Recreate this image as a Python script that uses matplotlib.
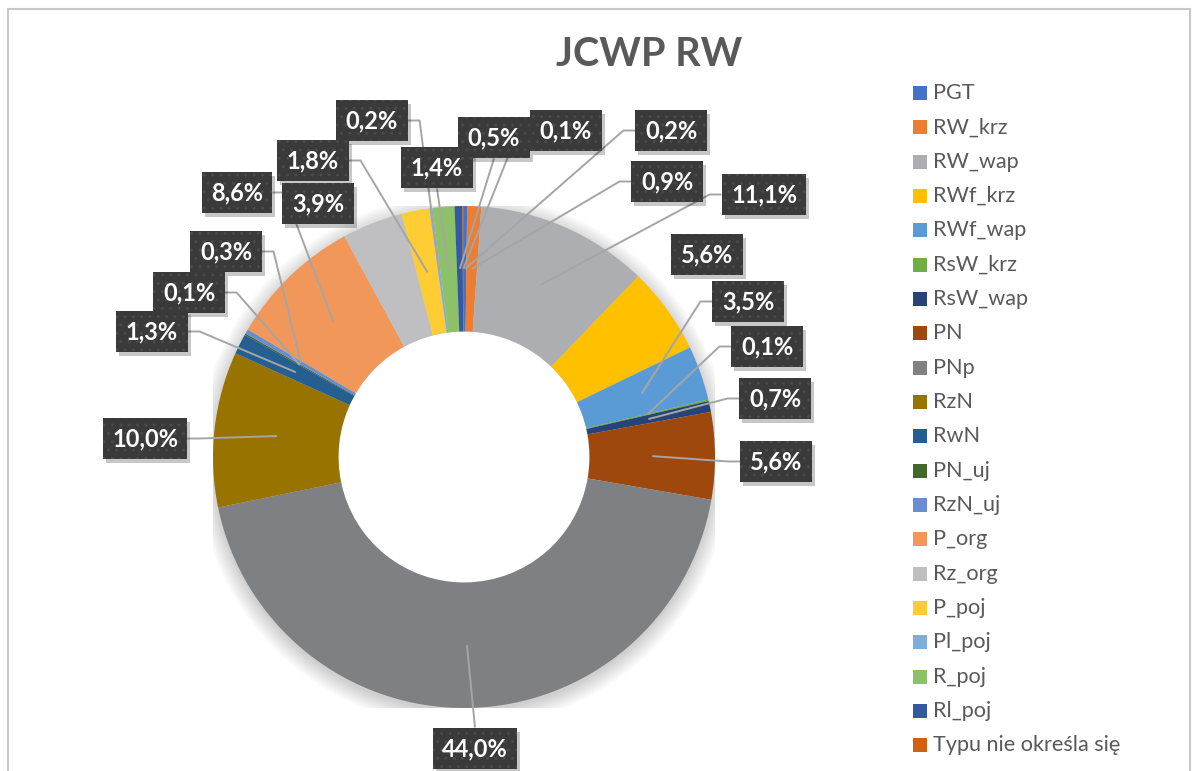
import matplotlib
matplotlib.use("Agg")
import matplotlib.pyplot as plt
from matplotlib.patches import Rectangle, Circle
import numpy as np

plt.rcParams['font.family'] = ['Lato', 'DejaVu Sans']

# Dane wykresu
kategorie = ["PGT", "RW_krz", "RW_wap", "RWf_krz", "RWf_wap", "RsW_krz", "RsW_wap",
             "PN", "PNp", "RzN", "RwN", "PN_uj", "RzN_uj", "P_org", "Rz_org",
             "P_poj", "Pl_poj", "R_poj", "Rl_poj", "Typu nie określa się"]
udzialy = [0.2, 0.9, 11.1, 5.6, 3.5, 0.1, 0.7, 5.6, 44.0, 10.0,
           1.3, 0.1, 0.3, 8.6, 3.9, 1.8, 0.2, 1.4, 0.5, 0.1]
kolory = ["#4472C4", "#ED7D31", "#ADAEB1", "#FFC000", "#5B9BD5", "#70AD47", "#264478",
          "#9E480E", "#7F8083", "#997300", "#255E91", "#43682B", "#698ED0", "#F1975A",
          "#BFBFC1", "#FFCD33", "#7CAFDD", "#8CC168", "#335AA1", "#D26012"]

# Uklad etykiet: srodek ramki w pikselach (od lewego gornego rogu) i strona linii
etykiety_poz = [(671, 132, 'l'), (667, 183, 'l'), (764, 196, 'l'), (707, 256, 'n'),
                (748, 303, 'l'), (767, 348, 'l'), (775, 400, 'l'), (776, 463, 'l'),
                (475, 750, 't'), (145, 440, 'r'), (152, 333, 'r'), (189, 294, 'r'),
                (226, 253, 'r'), (237, 194, 'r'), (318, 205, 'n'), (313, 162, 'r'),
                (372, 122, 'r'), (437, 169, 'b'), (494, 139, 'b'), (566, 132, 'l')]

W, H = 1196, 771
CX, CY, R = 464, 457, 251
SZARY = "#595959"

fig = plt.figure(figsize=(W / 100, H / 100), dpi=100)
ax = fig.add_axes([(CX - R) / W, (H - CY - R) / H, 2 * R / W, 2 * R / H])

# cien pod pierscieniem
for k in range(8):
    ax.add_patch(Circle((0.0, -0.015), 1.0 + 0.009 * k, fc='black', alpha=0.022,
                        lw=0, zorder=0))
ax.add_patch(Circle((0, 0), 0.5, fc='white', lw=0, zorder=0.5))

wedges, _ = ax.pie(udzialy, colors=kolory, startangle=90, counterclock=False,
                   radius=1, wedgeprops=dict(width=0.5, linewidth=0, zorder=1))
ax.set_xlim(-1, 1)
ax.set_ylim(-1, 1)
ax.axis('off')


def px2data(px, py):
    return (px - CX) / R, (CY - py) / R


teksty = []
for v, (px, py, strona) in zip(udzialy, etykiety_poz):
    xd, yd = px2data(px, py)
    t = ax.text(xd, yd + 0.006, f"{v:.1f}%".replace('.', ','), ha='center', va='center',
                color='white', fontsize=17, fontweight='bold', zorder=6,
                clip_on=False,
                bbox=dict(boxstyle='square,pad=0.4', fc='#3a3a3a', ec='#4a4a4a',
                          lw=0, hatch='..'))
    teksty.append(t)

fig.canvas.draw()
renderer = fig.canvas.get_renderer()
inv = ax.transData.inverted()

for w, t, (px, py, strona) in zip(wedges, teksty, etykiety_poz):
    bb = t.get_bbox_patch().get_window_extent(renderer)
    # cien ramki
    (sx0, sy0) = inv.transform((bb.x0 + 3, bb.y0 - 4))
    (sx1, sy1) = inv.transform((bb.x1 + 3, bb.y1 - 4))
    ax.add_patch(Rectangle((sx0, sy0), sx1 - sx0, sy1 - sy0, fc='black', alpha=0.22,
                           lw=0, zorder=5, clip_on=False))
    if strona == 'n':
        continue
    kat = np.deg2rad((w.theta1 + w.theta2) / 2)
    ax_, ay_ = 0.75 * np.cos(kat), 0.75 * np.sin(kat)
    ym = (bb.y0 + bb.y1) / 2
    xm = (bb.x0 + bb.x1) / 2
    if strona == 'l':
        pts = [(bb.x0, ym), (bb.x0 - 12, ym)]
    elif strona == 'r':
        pts = [(bb.x1, ym), (bb.x1 + 12, ym)]
    elif strona == 'b':
        pts = [(xm, bb.y0)]
    else:
        pts = [(xm, bb.y1)]
    pts = [tuple(inv.transform(p)) for p in pts] + [(ax_, ay_)]
    xs, ys = zip(*pts)
    ax.plot(xs, ys, color='#A5A5A5', lw=1.4, zorder=3, clip_on=False,
            solid_capstyle='butt')

# tytul
fig.text(649 / W, 1 - 55 / H, "JCWP RW", ha='center', va='center', fontsize=28.5,
         fontweight='bold', color=SZARY)

# legenda
for i, (nazwa, kol) in enumerate(zip(kategorie, kolory)):
    y = 93 + i * 34.34
    fig.patches.append(Rectangle((913 / W, 1 - (y + 7) / H), 14 / W, 14 / H,
                                 transform=fig.transFigure, fc=kol, lw=0))
    fig.text(933 / W, 1 - y / H, nazwa, ha='left', va='center', fontsize=15.6,
             color=SZARY)

# ramka obszaru wykresu
fig.patches.append(Rectangle((8 / W, -0.05), (1190 - 8) / W, 1.05 - 9 / H,
                             transform=fig.transFigure, fc='none', ec='#C8C8C8',
                             lw=1.5))

fig.savefig("out.png", dpi=100)
